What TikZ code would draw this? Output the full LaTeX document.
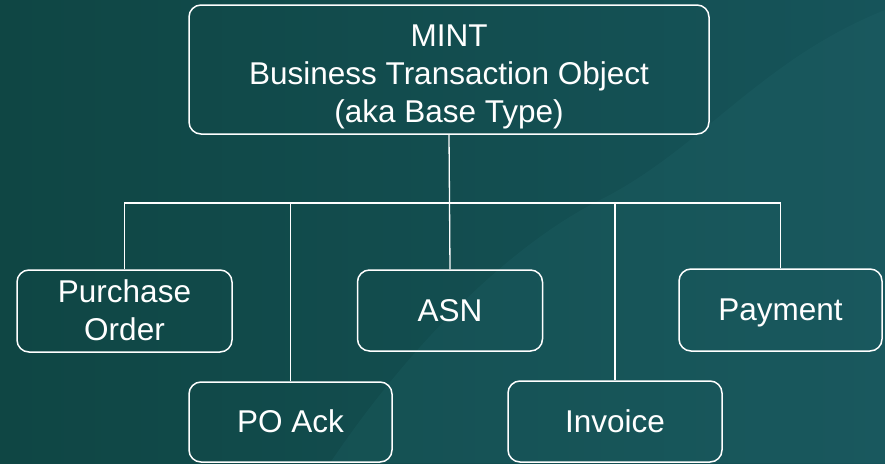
\documentclass[tikz,border=0pt]{standalone}
\usepackage{fontspec}
\setmainfont{Liberation Sans}
\usetikzlibrary{positioning}
\definecolor{bgdark}{RGB}{15,70,68}
\definecolor{bglight}{RGB}{22,84,90}
\definecolor{meshteal}{RGB}{40,110,115}
\tikzset{box/.style = {draw = white, line width = 1.5pt, rounded corners = 12pt,
                       text = white, align = center, inner sep = 0,
                       text height = 28.5pt, text depth = 6.7pt,
                       font = \fontsize{31.5}{38}\selectfont}}
\tikzset{link/.style = {draw = white, line width = 1.3pt}}

\begin{document}
\begin{tikzpicture}[x = 1pt, y = -1pt]
        \shade [left color = bgdark, right color = bglight] (0, 0) rectangle (885, 463);
        \fill [meshteal, opacity = 0.18] (330, 463) .. controls (420, 330) and (520, 240) .. (600, 200)
              .. controls (700, 150) and (760, 60) .. (885, 10) -- (885, 463) -- cycle;
        \useasboundingbox (0, 0) rectangle (885, 463);
        \node (mint) at (449, 69.5) [box, text height = 113pt, minimum width = 520, minimum height = 129]
              {MINT\\Business Transaction Object\\(aka Base Type)};
        \node (po) at (124.5, 311) [box, text height = 66.5pt, minimum width = 215, minimum height = 82]
              {Purchase\\Order};
        \node (ack) at (290.5, 422) [box, minimum width = 203, minimum height = 80] {PO Ack};
        \node (asn) at (450, 310.5) [box, minimum width = 185, minimum height = 81] {ASN};
        \node (inv) at (615, 421.5) [box, minimum width = 214, minimum height = 81] {Invoice};
        \node (pay) at (780.5, 310) [box, minimum width = 203, minimum height = 82] {Payment};
        \coordinate (busl) at (124.5, 203);
        \coordinate (busr) at (780.5, 203);
        \draw [link] (mint.south) -- (asn.north);
        \draw [link] (po.north) -- (busl) -- (busr) -- (pay.north);
        \draw [link] (ack.north) -- (ack.north |- busl);
        \draw [link] (inv.north) -- (inv.north |- busl);
      \end{tikzpicture}
\end{document}
